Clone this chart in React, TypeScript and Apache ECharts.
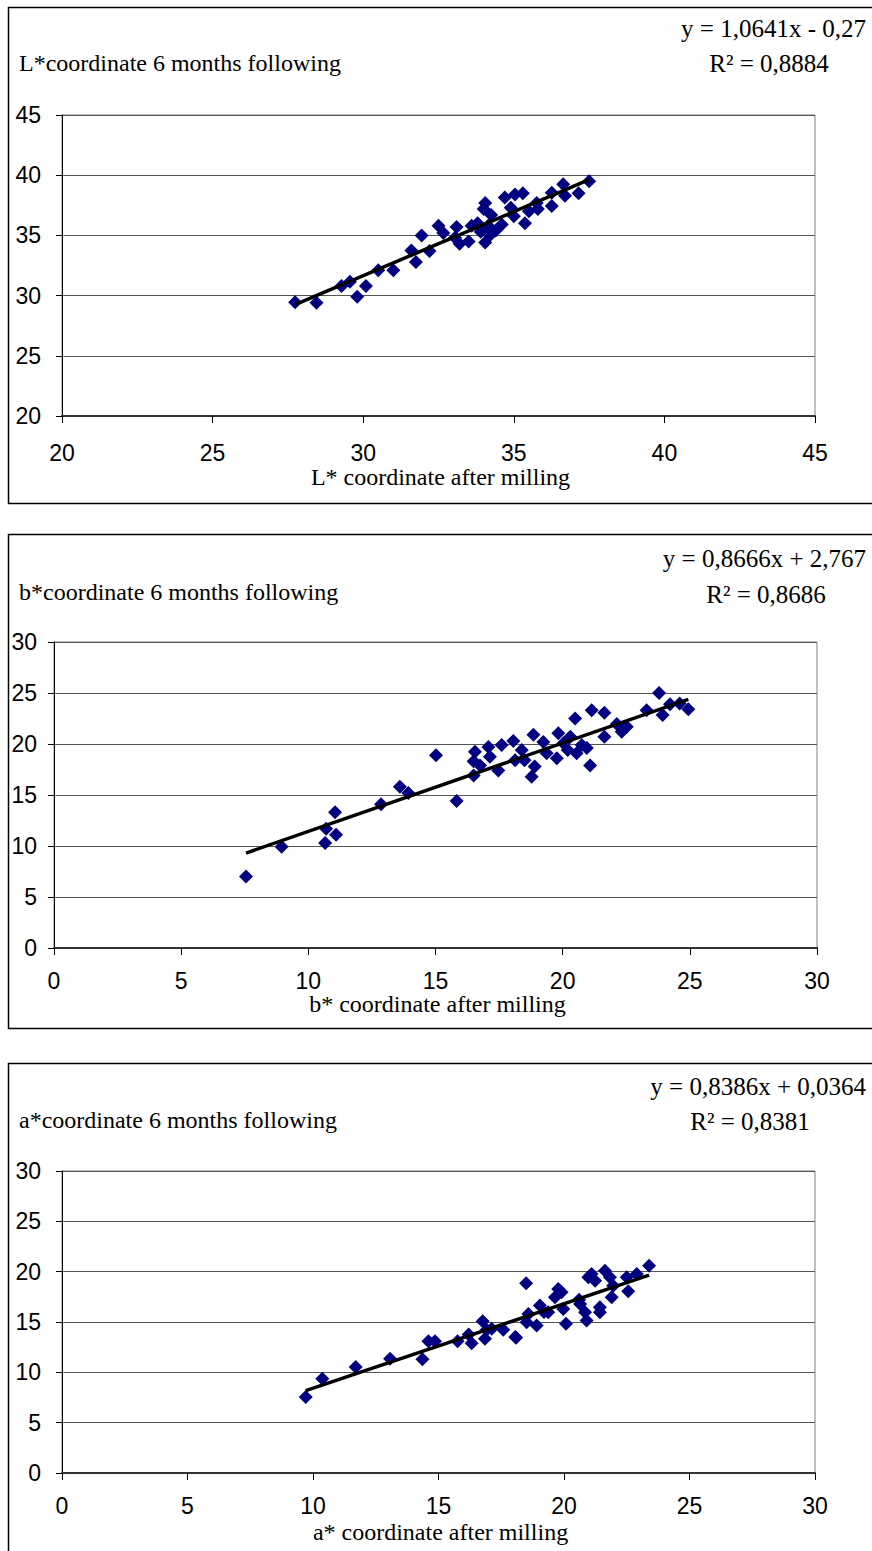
import React, { useEffect, useRef } from "react";
import * as echarts from "echarts";

// Panel 1: L* coordinate (after milling, 6 months following)
const lAfterMilling = [27.74, 28.45, 29.28, 29.56, 29.8, 30.09, 30.5, 31.0, 31.6, 31.75, 31.94, 32.2, 32.5, 32.66, 33.1, 33.05, 33.2, 33.5, 33.6, 33.8, 34.05, 34.0, 34.05, 34.2, 34.4, 34.15, 34.7, 34.9, 35.04, 35.0, 35.3, 35.37, 35.5, 35.76, 35.8, 36.26, 36.26, 36.64, 36.7, 37.15, 37.5, 34.25, 33.9, 34.6];
const lSixMonths = [29.45, 29.4, 30.8, 31.15, 29.9, 30.8, 32.1, 32.1, 33.75, 32.8, 35.0, 33.7, 35.8, 35.2, 35.7, 34.8, 34.3, 34.5, 35.8, 36.0, 37.7, 37.2, 34.4, 35.0, 35.4, 35.8, 38.15, 37.3, 38.4, 36.6, 38.5, 36.0, 37.0, 37.7, 37.2, 38.55, 37.45, 39.25, 38.3, 38.5, 39.5, 36.7, 35.3, 35.9];
const lTrendX = [27.74, 37.5];
const lTrendY = [29.25, 39.63];

// Panel 2: b* coordinate
const bAfterMilling = [7.55, 8.95, 10.66, 10.7, 11.05, 11.09, 12.86, 13.6, 13.93, 15.02, 15.83, 16.5, 16.55, 16.5, 16.75, 17.08, 17.14, 17.47, 17.6, 18.06, 18.13, 18.39, 18.5, 18.85, 18.9, 18.78, 19.24, 19.37, 19.77, 19.83, 20.03, 20.2, 20.3, 20.49, 20.55, 20.75, 20.95, 21.08, 21.14, 21.64, 21.64, 22.13, 22.32, 22.52, 23.3, 23.79, 23.93, 24.22, 24.6, 24.94];
const bSixMonths = [7.0, 9.93, 10.3, 11.7, 13.3, 11.1, 14.1, 15.8, 15.2, 18.9, 14.4, 16.9, 19.25, 18.3, 17.9, 19.7, 18.75, 17.4, 19.9, 20.3, 18.4, 19.4, 18.4, 20.9, 17.8, 16.8, 20.2, 19.1, 18.6, 21.05, 20.07, 19.4, 20.7, 22.5, 19.1, 19.9, 19.6, 17.9, 23.3, 23.07, 20.7, 21.96, 21.2, 21.7, 23.3, 25.0, 22.85, 23.9, 23.97, 23.4];
const bTrendX = [7.55, 24.94];
const bTrendY = [9.31, 24.38];

// Panel 3: a* coordinate
const aAfterMilling = [9.71, 10.37, 11.7, 13.07, 14.36, 14.6, 14.86, 15.76, 16.2, 16.32, 16.76, 16.92, 16.85, 17.12, 17.58, 18.06, 18.09, 18.49, 18.58, 18.51, 18.91, 19.04, 19.37, 19.64, 19.77, 19.9, 19.97, 20.08, 20.64, 20.84, 20.9, 20.97, 21.1, 21.24, 21.43, 21.43, 21.63, 21.83, 21.9, 21.96, 22.5, 22.56, 22.9, 23.39, 19.2, 20.6];
const aSixMonths = [7.55, 9.37, 10.52, 11.36, 11.29, 13.1, 13.1, 13.1, 13.76, 12.9, 15.08, 14.23, 13.34, 14.33, 14.23, 13.5, 13.44, 18.84, 15.8, 14.98, 14.65, 16.63, 15.97, 17.46, 18.29, 17.95, 16.3, 14.82, 16.8, 15.97, 15.15, 19.44, 19.77, 19.1, 16.46, 15.97, 20.1, 19.44, 17.46, 18.6, 19.44, 18.05, 19.77, 20.6, 16.0, 17.2];
const aTrendX = [9.71, 23.39];
const aTrendY = [8.18, 19.65];

const xTicks1 = [20, 45, 5];
const yTicks1 = [20, 45, 5];
const xTicks23 = [0, 30, 5];
const yTicks23 = [0, 30, 5];

const titles = [
  "L*coordinate 6 months following",
  "b*coordinate 6 months following",
  "a*coordinate 6 months following",
];
const xNames = [
  "L* coordinate after milling",
  "b* coordinate after milling",
  "a* coordinate after milling",
];
const equations = ["y = 1,0641x - 0,27", "y = 0,8666x + 2,767", "y = 0,8386x + 0,0364"];
const rSquared = ["R² = 0,8884", "R² = 0,8686", "R² = 0,8381"];

const zip = (xs: number[], ys: number[]) => xs.map((x, i) => [x, ys[i]]);

export default function App() {
  const ref = useRef<HTMLDivElement>(null);
  useEffect(() => {
    if (!ref.current) return;
    const chart = echarts.init(ref.current, null, { renderer: "svg" });
    const serif = "'Liberation Serif', 'Times New Roman', serif";
    const sans = "'Liberation Sans', Arial, sans-serif";

    const grids = [
      { left: 62, top: 115, width: 753, height: 301 },
      { left: 54, top: 642, width: 763, height: 306 },
      { left: 62, top: 1171, width: 753, height: 302 },
    ];
    const xr = [xTicks1, xTicks23, xTicks23];
    const yr = [yTicks1, yTicks23, yTicks23];
    const xMargins = [25, 21, 21];
    const yMargins = [21, 17, 21];

    const xAxis = grids.map((_, i) => ({
      type: "value",
      gridIndex: i,
      min: xr[i][0],
      max: xr[i][1],
      interval: xr[i][2],
      axisLine: { show: true, onZero: false, lineStyle: { color: "#333", width: 2 } },
      axisTick: { show: true, inside: false, length: 7, lineStyle: { color: "#000", width: 1 } },
      axisLabel: { color: "#000", fontFamily: sans, fontSize: 23, margin: xMargins[i] },
      splitLine: { show: false },
    }));
    const yAxis = grids.map((_, i) => ({
      type: "value",
      gridIndex: i,
      min: yr[i][0],
      max: yr[i][1],
      interval: yr[i][2],
      axisLine: { show: true, onZero: false, lineStyle: { color: "#000", width: 1 } },
      axisTick: { show: true, inside: false, length: 6, lineStyle: { color: "#000", width: 1 } },
      axisLabel: { color: "#000", fontFamily: sans, fontSize: 23, margin: yMargins[i] },
      splitLine: { show: true, lineStyle: { color: "#555", width: 1 } },
    }));

    const pts = [zip(lAfterMilling, lSixMonths), zip(bAfterMilling, bSixMonths), zip(aAfterMilling, aSixMonths)];
    const trends = [zip(lTrendX, lTrendY), zip(bTrendX, bTrendY), zip(aTrendX, aTrendY)];

    const series: any[] = [];
    for (let i = 0; i < 3; i++) {
      series.push({
        type: "scatter",
        xAxisIndex: i,
        yAxisIndex: i,
        data: pts[i],
        symbol: "diamond",
        symbolSize: 14,
        itemStyle: { color: "#000080", opacity: 1 },
        z: 3,
      });
      series.push({
        type: "line",
        xAxisIndex: i,
        yAxisIndex: i,
        data: trends[i],
        symbol: "none",
        lineStyle: { color: "#000", width: 3.5 },
        z: 4,
      });
    }

    const panelTops = [7, 534, 1063];
    const panelBottoms = [503, 1028, 1600];
    const titleY = [63, 592, 1120];
    const eqY = [28, 558, 1086];
    const r2Y = [63, 594, 1121];
    const xNameY = [477, 1004, 1532];
    const r2X = [769, 766, 750];

    const graphic: any[] = [];
    for (let i = 0; i < 3; i++) {
      graphic.push({
        type: "rect",
        shape: { x: 8.5, y: panelTops[i] + 0.5, width: 900, height: panelBottoms[i] - panelTops[i] },
        style: { fill: "none", stroke: "#000", lineWidth: 1.5 },
        z: 0,
      });
      graphic.push({
        type: "text",
        x: 19,
        y: titleY[i],
        style: { text: titles[i], font: `24px ${serif}`, fill: "#000", textVerticalAlign: "middle" },
      });
      graphic.push({
        type: "text",
        x: 866,
        y: eqY[i],
        style: { text: equations[i], font: `25px ${serif}`, fill: "#000", textAlign: "right", textVerticalAlign: "middle" },
      });
      graphic.push({
        type: "text",
        x: r2X[i],
        y: r2Y[i],
        style: { text: rSquared[i], font: `25px ${serif}`, fill: "#000", textAlign: "center", textVerticalAlign: "middle" },
      });
      graphic.push({
        type: "text",
        x: (grids[i].left + grids[i].left + grids[i].width) / 2 + 2,
        y: xNameY[i],
        style: { text: xNames[i], font: `24px ${serif}`, fill: "#000", textAlign: "center", textVerticalAlign: "middle" },
      });
    }

    chart.setOption({
      animation: false,
      backgroundColor: "#fff",
      grid: grids.map((g) => ({ ...g, show: true, borderColor: "#808080", borderWidth: 1, backgroundColor: "transparent" })),
      xAxis,
      yAxis,
      series,
      graphic,
    });
    return () => chart.dispose();
  }, []);
  return <div ref={ref} style={{ position: "absolute", left: 0, top: 0, width: 872, height: 1551 }} />;
}
